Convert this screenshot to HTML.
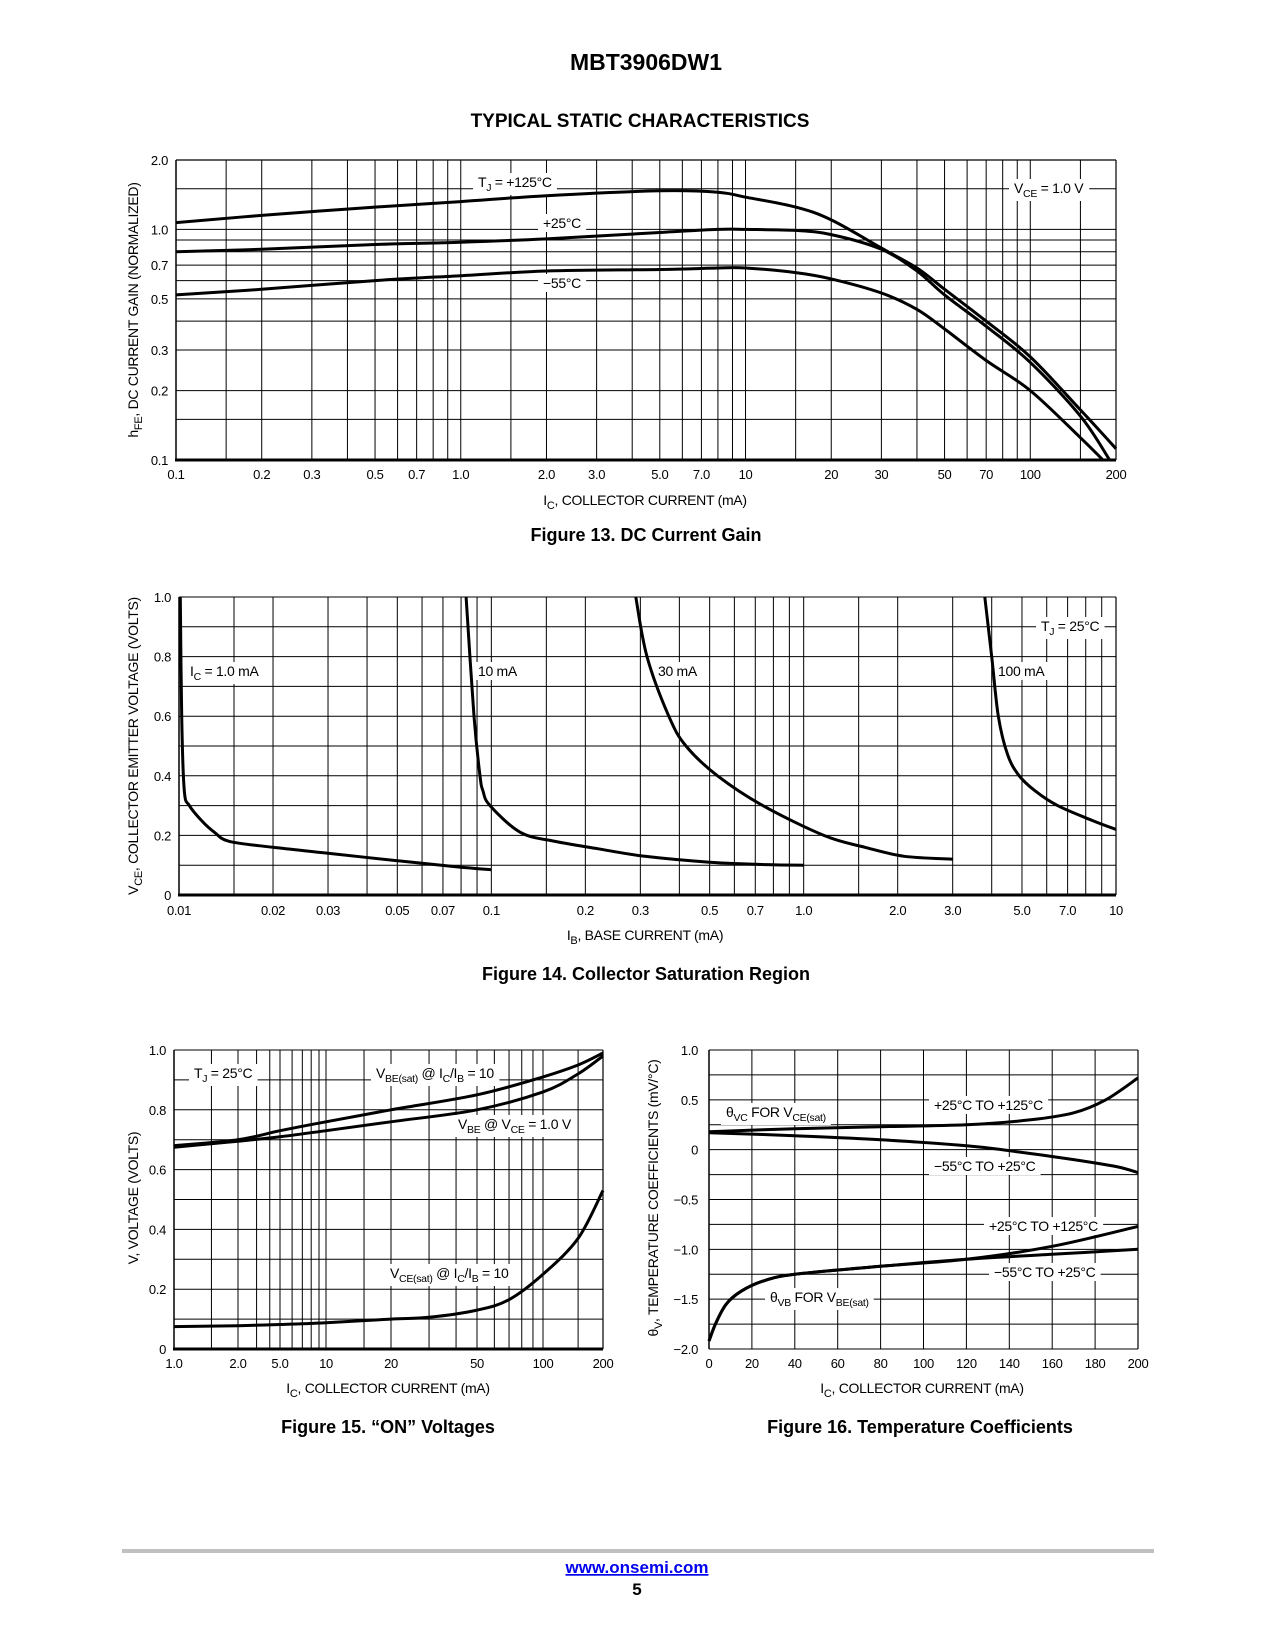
<!DOCTYPE html>
<html><head><meta charset="utf-8">
<style>
html,body{margin:0;padding:0;background:#fff;}
svg{display:block;font-family:"Liberation Sans Narrow","Liberation Sans",sans-serif;}
.tk{font-size:13px;fill:#000;letter-spacing:-0.3px;}
.ttl{font-size:14px;fill:#000;letter-spacing:-0.3px;}
.lbl{font-size:14px;fill:#000;letter-spacing:-0.3px;}
.cap{font-family:"Liberation Sans",sans-serif;font-size:18px;font-weight:bold;fill:#000;}
</style></head>
<body>
<svg id="page" width="1275" height="1650" viewBox="0 0 1275 1650" xmlns="http://www.w3.org/2000/svg">
<text x="646" y="70" text-anchor="middle" style="font-family:'Liberation Sans',sans-serif;font-size:23px;font-weight:bold">MBT3906DW1</text>
<text x="640" y="127" text-anchor="middle" style="font-family:'Liberation Sans',sans-serif;font-size:19px;font-weight:bold">TYPICAL STATIC CHARACTERISTICS</text>

<g id="c1"></g>
<g id="c2"></g>
<g id="c3"></g>
<g id="c4"></g>

<text class="ttl" transform="translate(138,310) rotate(-90)" text-anchor="middle">h<tspan baseline-shift="-4" font-size="11">FE</tspan>, DC CURRENT GAIN (NORMALIZED)</text>
<text class="ttl" x="645" y="505" text-anchor="middle">I<tspan baseline-shift="-4" font-size="11">C</tspan>, COLLECTOR CURRENT (mA)</text>
<text class="cap" x="646" y="541" text-anchor="middle">Figure 13. DC Current Gain</text>

<text class="ttl" transform="translate(138,746) rotate(-90)" text-anchor="middle">V<tspan baseline-shift="-4" font-size="11">CE</tspan>, COLLECTOR EMITTER VOLTAGE (VOLTS)</text>
<text class="ttl" x="645" y="940" text-anchor="middle">I<tspan baseline-shift="-4" font-size="11">B</tspan>, BASE CURRENT (mA)</text>
<text class="cap" x="646" y="980" text-anchor="middle">Figure 14. Collector Saturation Region</text>

<text class="ttl" transform="translate(138,1198) rotate(-90)" text-anchor="middle">V, VOLTAGE (VOLTS)</text>
<text class="ttl" x="388" y="1393" text-anchor="middle">I<tspan baseline-shift="-4" font-size="11">C</tspan>, COLLECTOR CURRENT (mA)</text>
<text class="cap" x="388" y="1433" text-anchor="middle">Figure 15. “ON” Voltages</text>

<text class="ttl" transform="translate(658,1198) rotate(-90)" text-anchor="middle">θ<tspan baseline-shift="-4" font-size="11">V</tspan>, TEMPERATURE COEFFICIENTS (mV/°C)</text>
<text class="ttl" x="922" y="1393" text-anchor="middle">I<tspan baseline-shift="-4" font-size="11">C</tspan>, COLLECTOR CURRENT (mA)</text>
<text class="cap" x="920" y="1433" text-anchor="middle">Figure 16. Temperature Coefficients</text>

<rect x="122" y="1549" width="1032" height="4" fill="#c0c0c0"/>
<text x="637" y="1573" text-anchor="middle" style="font-family:'Liberation Sans',sans-serif;font-size:17px;font-weight:bold;fill:#0000ee;text-decoration:underline">www.onsemi.com</text>
<text x="637" y="1595" text-anchor="middle" style="font-family:'Liberation Sans',sans-serif;font-size:17px;font-weight:bold">5</text>
</svg>

<script>
// ---------- Figure 13 data ----------
const f13XTicks = [0.1,0.2,0.3,0.5,0.7,1,2,3,5,7,10,20,30,50,70,100,200];
const f13XLabels = ["0.1","0.2","0.3","0.5","0.7","1.0","2.0","3.0","5.0","7.0","10","20","30","50","70","100","200"];
const f13YTicks = [0.1,0.2,0.3,0.5,0.7,1,2];
const f13YLabels = ["0.1","0.2","0.3","0.5","0.7","1.0","2.0"];
const f13Ic = [0.1,0.2,0.5,1,2,5,8,10,15,20,30,40,50,70,100,150,200];
const f13T125 = [1.07,1.15,1.25,1.32,1.40,1.47,1.45,1.38,1.25,1.10,0.83,0.68,0.55,0.40,0.28,0.165,0.112];
const f13T25Ic = [0.1,0.2,0.5,1,2,5,8,10,15,20,30,40,50,70,100,150,190];
const f13T25  = [0.80,0.82,0.86,0.88,0.91,0.97,1.00,1.00,0.99,0.95,0.82,0.66,0.52,0.38,0.265,0.155,0.10];
const f13Tm55Ic = [0.1,0.2,0.5,1,2,5,8,10,15,20,30,40,50,70,100,150,180];
const f13Tm55 = [0.52,0.55,0.60,0.63,0.66,0.67,0.68,0.68,0.65,0.61,0.53,0.45,0.37,0.27,0.20,0.125,0.10];

// ---------- Figure 14 data ----------
const f14XTicks = [0.01,0.02,0.03,0.05,0.07,0.1,0.2,0.3,0.5,0.7,1,2,3,5,7,10];
const f14XLabels = ["0.01","0.02","0.03","0.05","0.07","0.1","0.2","0.3","0.5","0.7","1.0","2.0","3.0","5.0","7.0","10"];
const f14YTicks = [0,0.2,0.4,0.6,0.8,1.0];
const f14YLabels = ["0","0.2","0.4","0.6","0.8","1.0"];
const f14Ib1 = [0.0101,0.0102,0.0104,0.0108,0.0118,0.013,0.0145,0.02,0.03,0.05,0.077,0.1];
const f14V1  = [1.0,0.6,0.35,0.30,0.25,0.21,0.18,0.16,0.14,0.115,0.095,0.085];
const f14Ib10 = [0.083,0.088,0.092,0.094,0.099,0.124,0.16,0.22,0.31,0.5,0.76,1.0];
const f14V10  = [1.0,0.6,0.4,0.35,0.30,0.21,0.18,0.155,0.13,0.11,0.102,0.10];
const f14Ib30 = [0.29,0.315,0.37,0.42,0.53,0.74,1.16,1.57,2.1,3.0];
const f14V30  = [1.0,0.8,0.6,0.5,0.4,0.3,0.2,0.16,0.13,0.12];
const f14Ib100 = [3.8,4.0,4.2,4.5,4.9,5.5,6.5,8.4,10];
const f14V100  = [1.0,0.8,0.6,0.47,0.4,0.35,0.3,0.25,0.22];

// ---------- Figure 15 data ----------
const f15XTicks = [1,2,5,10,20,50,100,200];
const f15XLabels = ["1.0","2.0","5.0","10","20","50","100","200"];
const f15YTicks = [0,0.2,0.4,0.6,0.8,1.0];
const f15YLabels = ["0","0.2","0.4","0.6","0.8","1.0"];
const f15Ic = [1,2,5,10,20,50,100,150,200];
const f15VbeSat = [0.68,0.70,0.73,0.76,0.80,0.85,0.91,0.95,0.99];
const f15Vbe    = [0.675,0.695,0.71,0.73,0.76,0.80,0.86,0.92,0.98];
const f15IcSat = [1,2,5,10,20,30,50,70,100,150,200];
const f15VceSat = [0.075,0.078,0.082,0.088,0.10,0.106,0.13,0.165,0.25,0.37,0.53];

// ---------- Figure 16 data ----------
const f16XTicks = [0,20,40,60,80,100,120,140,160,180,200];
const f16XLabels = ["0","20","40","60","80","100","120","140","160","180","200"];
const f16YTicks = [-2,-1.5,-1,-0.5,0,0.5,1];
const f16YLabels = ["−2.0","−1.5","−1.0","−0.5","0","0.5","1.0"];
const f16IcVc = [0,40,80,120,150,170,185,200];
const f16VcHot  = [0.18,0.21,0.23,0.25,0.30,0.37,0.50,0.72];
const f16IcVcCold = [0,40,80,120,140,170,190,200];
const f16VcCold = [0.17,0.14,0.10,0.04,-0.01,-0.10,-0.17,-0.23];
const f16IcVb = [0,3,8,15,25,40,80,120,160,200];
const f16VbHot  = [-1.92,-1.75,-1.55,-1.42,-1.32,-1.25,-1.17,-1.10,-0.97,-0.77];
const f16VbCold = [-1.92,-1.75,-1.55,-1.42,-1.32,-1.25,-1.17,-1.10,-1.05,-1.00];

// ---------- helpers ----------
const NS = "http://www.w3.org/2000/svg";
function el(tag, parent){ const e=document.createElementNS(NS,tag); parent.appendChild(e); return e; }
function logScale(d0,d1,r0,r1){ const a=Math.log10(d0), b=Math.log10(d1); return v => r0+(Math.log10(v)-a)/(b-a)*(r1-r0); }
function linScale(d0,d1,r0,r1){ return v => r0+(v-d0)/(d1-d0)*(r1-r0); }
function pieceLog(dom, rng){ return v => { let i=0; while(i<dom.length-2 && v>dom[i+1]) i++;
  const a=Math.log10(dom[i]), b=Math.log10(dom[i+1]); return rng[i]+(Math.log10(v)-a)/(b-a)*(rng[i+1]-rng[i]); }; }
function smooth(pts){
  let d="M"+pts[0][0].toFixed(1)+","+pts[0][1].toFixed(1);
  for(let i=0;i<pts.length-1;i++){
    const p0=pts[Math.max(0,i-1)], p1=pts[i], p2=pts[i+1], p3=pts[Math.min(pts.length-1,i+2)];
    const c1=[p1[0]+(p2[0]-p0[0])/6, p1[1]+(p2[1]-p0[1])/6];
    const c2=[p2[0]-(p3[0]-p1[0])/6, p2[1]-(p3[1]-p1[1])/6];
    d+=" C"+c1[0].toFixed(1)+","+c1[1].toFixed(1)+" "+c2[0].toFixed(1)+","+c2[1].toFixed(1)+" "+p2[0].toFixed(1)+","+p2[1].toFixed(1);
  }
  return d;
}
function line(g,x1,y1,x2,y2,w){ const l=el("line",g); l.setAttribute("x1",x1); l.setAttribute("y1",y1); l.setAttribute("x2",x2); l.setAttribute("y2",y2); l.setAttribute("stroke","#000"); l.setAttribute("stroke-width",w); return l; }
function curve(g,xs,ys,X,Y,name){
  const p=el("path",g);
  
  
  p.setAttribute("d", smooth(xs.map((v,i)=>[X(v),Y(ys[i])])));
  p.setAttribute("fill","none"); p.setAttribute("stroke","#000"); p.setAttribute("stroke-width","3"); p.setAttribute("stroke-linejoin","round");
}
function ticks(g,vals,labels,pos,fixed,isX,anchor,prefix){
  vals.forEach((v,i)=>{
    const t=el("text",g);
    
    
    t.setAttribute("class","tk");
    if(isX){ t.setAttribute("x",pos(v)); t.setAttribute("y",fixed); }
    else { t.setAttribute("x",fixed); t.setAttribute("y",pos(v)+5); }
    t.setAttribute("text-anchor",anchor);
    t.textContent=labels[i];
  });
}
function label(g,x,y,html,name){
  const t=el("text",g);
  
  
  t.setAttribute("class","lbl"); t.setAttribute("x",x); t.setAttribute("y",y);
  t.innerHTML=html;
  const bb=t.getBBox();
  const r=document.createElementNS(NS,"rect");
  
  
  r.setAttribute("x",bb.x-5); r.setAttribute("y",bb.y-1); r.setAttribute("width",bb.width+10); r.setAttribute("height",bb.height+2); r.setAttribute("fill","#fff");
  g.insertBefore(r,t);
}
function decadeLines(lo,hi){ const out=[]; for(let e=Math.floor(Math.log10(lo)); Math.pow(10,e)<=hi*1.0001; e++){ [1,1.5,2,3,4,5,6,7,8,9].forEach(m=>{ const v=m*Math.pow(10,e); if(v>=lo*0.9999 && v<=hi*1.0001) out.push(v); }); } return out; }
const sub = s => '<tspan baseline-shift="-4" font-size="10.5">'+s+'</tspan>';

// ---------- Figure 13 ----------
(function(){
  const g=document.getElementById("c1"); const L=176,R=1116,T=160,B=460;
  const X=logScale(0.1,200,L,R), Y=logScale(0.1,2,B,T);
  decadeLines(0.1,200).forEach(v=>line(g,X(v),T,X(v),B,1));
  [0.1,0.15,0.2,0.3,0.4,0.5,0.6,0.7,0.8,0.9,1,1.5,2].forEach(v=>line(g,L,Y(v),R,Y(v),1));
  line(g,L,T,R,T,1.2); line(g,R,T,R,B,1.2); line(g,L,T,L,B,1.5); line(g,L-1,B,R,B,3);
  label(g,478,187,'T'+sub('J')+' = +125°C','label-tj-125');
  label(g,543,228,'+25°C','label-25c');
  label(g,543,288,'−55°C','label-minus55c');
  label(g,1014,193,'V'+sub('CE')+' = 1.0 V','label-vce');
  curve(g,f13Ic,f13T125,X,Y,'curve-125c');
  curve(g,f13T25Ic,f13T25,X,Y,'curve-25c');
  curve(g,f13Tm55Ic,f13Tm55,X,Y,'curve-minus55c');
  ticks(g,f13XTicks,f13XLabels,X,479,true,"middle","x13");
  ticks(g,f13YTicks,f13YLabels,Y,168,false,"end","y13");
})();

// ---------- Figure 14 ----------
(function(){
  const g=document.getElementById("c2"); const L=179,R=1116,T=597,B=895;
  const X=logScale(0.01,10,L,R), Y=linScale(0,1,B,T);
  decadeLines(0.01,10).forEach(v=>line(g,X(v),T,X(v),B,1));
  for(let v=0;v<=1.0001;v+=0.1) line(g,L,Y(v),R,Y(v),1);
  line(g,R,T,R,B,1.2); line(g,L,T,L,B,1.5); line(g,L-1,B,R,B,3);
  label(g,1041,631,'T'+sub('J')+' = 25°C','label-tj-25');
  label(g,190,676,'I'+sub('C')+' = 1.0 mA','label-ic-1ma');
  label(g,478,676,'10 mA','label-10ma');
  label(g,658,676,'30 mA','label-30ma');
  label(g,998,676,'100 mA','label-100ma');
  curve(g,f14Ib1,f14V1,X,Y,'curve-ic-1ma');
  curve(g,f14Ib10,f14V10,X,Y,'curve-ic-10ma');
  curve(g,f14Ib30,f14V30,X,Y,'curve-ic-30ma');
  curve(g,f14Ib100,f14V100,X,Y,'curve-ic-100ma');
  ticks(g,f14XTicks,f14XLabels,X,915,true,"middle","x14");
  ticks(g,f14YTicks,f14YLabels,Y,171,false,"end","y14");
})();

// ---------- Figure 15 ----------
(function(){
  const g=document.getElementById("c3"); const L=174,R=603,T=1050,B=1349;
  const X=pieceLog([1,2,5,10,20,50,100,200],[L,238,280,326,391,477,543,R]), Y=linScale(0,1,B,T);
  decadeLines(1,200).forEach(v=>line(g,X(v),T,X(v),B,1));
  for(let v=0;v<=1.0001;v+=0.1) line(g,L,Y(v),R,Y(v),1);
  line(g,R,T,R,B,1.2); line(g,L,T,L,B,1.5); line(g,L-1,B,R,B,3);
  label(g,194,1078,'T'+sub('J')+' = 25°C','label-tj-25');
  label(g,376,1078,'V'+sub('BE(sat)')+' @ I'+sub('C')+'/I'+sub('B')+' = 10','label-vbe-sat');
  label(g,458,1129,'V'+sub('BE')+' @ V'+sub('CE')+' = 1.0 V','label-vbe');
  label(g,390,1278,'V'+sub('CE(sat)')+' @ I'+sub('C')+'/I'+sub('B')+' = 10','label-vce-sat');
  curve(g,f15Ic,f15VbeSat,X,Y,'curve-vbe-sat');
  curve(g,f15Ic,f15Vbe,X,Y,'curve-vbe');
  curve(g,f15IcSat,f15VceSat,X,Y,'curve-vce-sat');
  ticks(g,f15XTicks,f15XLabels,X,1368,true,"middle","x15");
  ticks(g,f15YTicks,f15YLabels,Y,166,false,"end","y15");
})();

// ---------- Figure 16 ----------
(function(){
  const g=document.getElementById("c4"); const L=709,R=1138,T=1050,B=1349;
  const X=linScale(0,200,L,R), Y=linScale(-2,1,B,T);
  for(let v=0;v<=200;v+=20) line(g,X(v),T,X(v),B,1);
  for(let v=-2;v<=1.0001;v+=0.25) line(g,L,Y(v),R,Y(v),1);
  line(g,L,T,L,B,1.5); line(g,R,T,R,B,1.2);
  label(g,726,1117,'θ'+sub('VC')+' FOR V'+sub('CE(sat)'),'label-theta-vc');
  label(g,934,1110,'+25°C TO +125°C','label-vc-hot');
  label(g,934,1171,'−55°C TO +25°C','label-vc-cold');
  label(g,989,1231,'+25°C TO +125°C','label-vb-hot');
  label(g,994,1277,'−55°C TO +25°C','label-vb-cold');
  label(g,770,1302,'θ'+sub('VB')+' FOR V'+sub('BE(sat)'),'label-theta-vb');
  curve(g,f16IcVc,f16VcHot,X,Y,'curve-vc-hot');
  curve(g,f16IcVcCold,f16VcCold,X,Y,'curve-vc-cold');
  curve(g,f16IcVb,f16VbHot,X,Y,'curve-vb-hot');
  curve(g,f16IcVb,f16VbCold,X,Y,'curve-vb-cold');
  ticks(g,f16XTicks,f16XLabels,X,1368,true,"middle","x16");
  ticks(g,f16YTicks,f16YLabels,Y,698,false,"end","y16");
})();
</script>
</body></html>
